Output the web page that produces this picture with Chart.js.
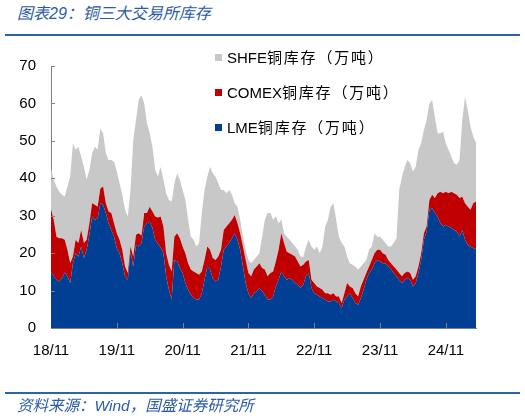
<!DOCTYPE html>
<html>
<head>
<meta charset="utf-8">
<script src="https://cdn.jsdelivr.net/npm/chart.js@4.4.1/dist/chart.umd.min.js"></script>
<style>
  body { margin: 0; background: #fff; }
  #wrap { position: relative; width: 525px; height: 418px; overflow: hidden; font-family: "Liberation Sans", "Noto Sans CJK SC", sans-serif; }
  #chart { position: absolute; left: 0; top: 0; }
  .titulo { position: absolute; left: 17px; top: 4px; font-size: 16px; line-height: 20px; font-style: italic; color: #2a5aa8; white-space: nowrap; }
  .fuente { position: absolute; left: 17px; top: 396px; font-size: 15.5px; line-height: 20px; font-style: italic; color: #2a5aa8; white-space: nowrap; }
  .linea { position: absolute; left: 5px; width: 515px; height: 2px; background: #2a63b0; }
  .leyenda { position: absolute; left: 215px; font-size: 15px; line-height: 18px; color: #000; white-space: nowrap; }
  .leyenda span { display: inline-block; width: 7px; height: 7px; margin-right: 5px; vertical-align: 2px; }
  .leyenda em { font-style: normal; letter-spacing: 1.8px; }
</style>
</head>
<body>
<div id="wrap">
  <div class="titulo">图表29：铜三大交易所库存</div>
  <div class="linea" style="top:34px"></div>
  <canvas id="chart" width="525" height="418"></canvas>
  <div class="leyenda" style="top:49px"><span style="background:#c8c8c8"></span>SHFE<em>铜库存（万吨）</em></div>
  <div class="leyenda" style="top:84px"><span style="background:#c00000"></span>COMEX<em>铜库存（万吨）</em></div>
  <div class="leyenda" style="top:119px"><span style="background:#003f94"></span>LME<em>铜库存（万吨）</em></div>
  <div class="linea" style="top:392px"></div>
  <div class="fuente">资料来源：Wind，国盛证券研究所</div>
</div>
<script>
// puntos cada medio mes desde 2018/11 (unidad: 万吨)
const pasoMeses = 0.5;

const lme = [
  15.1, 13.8, 12.9, 12.4, 13.3, 14.8, 13.8, 12.0, 17.3, 20.0, 19.1, 21.8, 18.7, 20.9, 24.9, 29.8, 28.9, 29.3, 33.3, 32.9,
  30.7, 28.0, 26.2, 24.4, 21.3, 20.0, 17.3, 13.8, 12.9, 20.4, 16.4, 22.2, 21.8, 22.7, 27.1, 28.0, 28.4, 26.7, 23.6, 22.5,
  21.5, 20.0, 13.8, 10.2, 7.6, 18.2, 17.8, 16.0, 14.7, 12.0, 10.2, 8.9, 8.0, 7.6, 7.6, 9.3, 12.9, 16.4, 15.6, 13.3,
  12.4, 12.9, 16.4, 20.9, 21.8, 22.7, 24.0, 25.3, 23.6, 20.9, 16.4, 12.0, 9.3, 8.0, 9.3, 9.8, 10.7, 9.8, 8.9, 7.6,
  7.6, 8.4, 11.1, 12.9, 15.1, 13.8, 12.9, 13.3, 12.9, 12.0, 11.6, 10.7, 11.6, 13.8, 14.7, 10.7, 9.3, 8.9, 8.4, 8.0,
  7.6, 7.1, 7.1, 7.6, 7.1, 6.7, 5.3, 7.6, 8.4, 9.3, 8.0, 6.7, 6.2, 8.0, 10.2, 12.9, 14.7, 15.6, 17.3, 18.2,
  17.8, 17.3, 17.3, 16.4, 15.6, 14.7, 13.8, 12.9, 12.0, 12.9, 13.3, 12.9, 11.1, 12.0, 14.7, 18.2, 23.6, 25.8, 31.6, 32.0,
  30.7, 29.8, 28.0, 27.1, 27.6, 27.1, 26.7, 26.2, 25.8, 24.4, 26.2, 23.6, 22.2, 21.8, 21.3, 21.3
];

const comex = [
  16.5, 15.1, 11.5, 11.6, 10.7, 8.8, 7.1, 5.3, 1.8, 3.6, 3.6, 4.4, 4.0, 2.7, 3.1, 3.5, 4.0, 3.1, 4.0, 4.9,
  2.6, 3.1, 4.5, 3.6, 4.0, 3.6, 3.6, 2.6, 1.8, 1.4, 2.7, 2.7, 3.5, 2.0, 3.6, 2.7, 4.0, 4.4, 6.2, 7.0,
  8.3, 7.1, 6.2, 6.7, 7.5, 6.2, 7.5, 8.0, 7.1, 8.0, 7.1, 6.7, 7.1, 7.1, 6.6, 5.8, 5.3, 5.4, 5.3, 5.4,
  5.8, 6.2, 4.5, 5.3, 5.3, 5.3, 4.9, 4.9, 4.4, 4.4, 5.4, 6.2, 5.4, 5.8, 6.3, 6.6, 6.6, 6.2, 6.7, 6.2,
  7.1, 6.7, 6.7, 8.0, 10.2, 8.9, 7.5, 6.7, 6.7, 7.1, 6.2, 5.7, 5.3, 4.0, 3.5, 2.2, 2.7, 2.2, 2.3, 2.2,
  1.7, 2.2, 1.8, 1.7, 1.3, 1.7, 1.4, 1.7, 3.6, 1.8, 2.7, 2.6, 2.2, 3.1, 2.7, 1.8, 1.7, 2.6, 2.7, 2.7,
  3.1, 2.7, 2.3, 1.8, 1.7, 1.7, 1.8, 1.8, 1.8, 1.8, 1.8, 1.8, 1.8, 1.8, 1.7, 1.8, 1.7, 1.3, 2.6, 3.6,
  4.0, 6.2, 8.4, 8.9, 8.8, 8.9, 9.7, 9.8, 9.8, 10.3, 8.9, 9.7, 10.2, 9.8, 12.0, 12.5
];

const shfe = [
  11.1, 10.7, 13.4, 12.4, 11.6, 11.5, 16.9, 23.1, 30.2, 24.0, 25.7, 19.6, 20.4, 16.0, 14.2, 13.4, 15.5, 15.2, 16.0, 14.2,
  13.4, 13.8, 14.2, 16.4, 16.5, 15.1, 14.7, 15.2, 15.1, 15.1, 31.1, 30.7, 35.6, 37.5, 29.3, 24.0, 19.6, 17.3, 12.4, 11.0,
  13.3, 12.5, 16.0, 17.3, 18.7, 14.3, 16.0, 15.6, 15.1, 14.2, 11.6, 8.8, 8.5, 7.1, 8.5, 15.6, 18.7, 18.6, 22.2, 22.6,
  22.2, 19.6, 16.0, 10.7, 8.9, 8.9, 6.7, 3.1, 4.4, 3.6, 2.6, 2.7, 3.5, 3.5, 2.6, 2.7, 2.7, 8.4, 13.3, 16.9,
  16.0, 13.8, 12.0, 7.1, 3.7, 2.6, 4.0, 3.6, 3.1, 2.7, 3.1, 2.7, 2.1, 4.0, 5.4, 8.9, 8.9, 10.7, 9.3, 11.6,
  17.8, 19.6, 23.5, 24.0, 20.5, 16.0, 16.0, 12.5, 7.1, 6.2, 6.2, 7.1, 7.2, 5.3, 4.4, 3.5, 4.5, 3.6, 5.3, 3.5,
  3.5, 3.6, 3.1, 3.6, 4.5, 6.3, 8.4, 22.2, 26.6, 28.4, 29.8, 29.3, 28.9, 29.3, 31.2, 29.3, 27.6, 28.5, 25.8, 25.3,
  21.7, 16.0, 15.6, 16.4, 12.9, 11.6, 9.4, 8.0, 8.0, 10.2, 20.5, 28.5, 25.8, 22.2, 17.8, 15.7
];

const etiquetasX = ['18/11', '19/11', '20/11', '21/11', '22/11', '23/11', '24/11'];
const posicionesX = [0, 12, 24, 36, 48, 60, 72];   // meses desde 2018/11

function aPuntos(serie) {
  return serie.map((v, i) => ({ x: i * pasoMeses, y: v }));
}

// marcas de los ejes hacia dentro, como en el original
const marcasInternas = {
  id: 'marcasInternas',
  afterDatasetsDraw(chart) {
    const ctx = chart.ctx;
    const x = chart.scales.x, y = chart.scales.y;
    ctx.save();
    ctx.strokeStyle = '#808080';
    ctx.lineWidth = 1;
    ctx.beginPath();
    y.ticks.forEach(t => {
      if (t.value === 0) return;
      const py = Math.round(y.getPixelForValue(t.value)) + 0.5;
      ctx.moveTo(x.left, py);
      ctx.lineTo(x.left + 4, py);
    });
    posicionesX.forEach(v => {
      if (v === 0) return;
      const px = Math.round(x.getPixelForValue(v)) + 0.5;
      ctx.moveTo(px, y.bottom);
      ctx.lineTo(px, y.bottom - 5);
    });
    ctx.stroke();
    ctx.restore();
  }
};

const fuenteEjes = { family: '"Liberation Sans", "Noto Sans CJK SC", sans-serif', size: 15 };

new Chart(document.getElementById('chart').getContext('2d'), {
  type: 'line',
  data: {
    datasets: [
      { label: 'LME铜库存（万吨）', data: aPuntos(lme), backgroundColor: '#003f94', borderWidth: 0, pointRadius: 0, fill: 'origin' },
      { label: 'COMEX铜库存（万吨）', data: aPuntos(comex), backgroundColor: '#c00000', borderWidth: 0, pointRadius: 0, fill: '-1' },
      { label: 'SHFE铜库存（万吨）', data: aPuntos(shfe), backgroundColor: '#c8c8c8', borderWidth: 0, pointRadius: 0, fill: '-1' }
    ]
  },
  options: {
    responsive: false,
    animation: false,
    layout: { padding: { left: 0, top: 66, right: 49, bottom: 50 } },
    plugins: { legend: { display: false }, tooltip: { enabled: false } },
    elements: { line: { tension: 0 } },
    scales: {
      x: {
        type: 'linear',
        min: 0,
        max: (lme.length - 1) * pasoMeses,
        afterBuildTicks: s => { s.ticks = posicionesX.map(v => ({ value: v })); },
        afterFit: s => { s.height = 40; },
        ticks: {
          font: fuenteEjes, color: '#000', padding: 14, maxRotation: 0, autoSkip: false,
          callback: v => etiquetasX[posicionesX.indexOf(v)]
        },
        grid: { display: false, drawTicks: false },
        border: { display: true, color: '#808080' }
      },
      y: {
        stacked: true,
        min: 0,
        max: 70,
        afterFit: s => { s.width = 51; },
        ticks: { stepSize: 10, font: fuenteEjes, color: '#000', padding: 15 },
        grid: { display: false, drawTicks: false },
        border: { display: true, color: '#808080' }
      }
    }
  },
  plugins: [marcasInternas]
});
</script>
</body>
</html>
